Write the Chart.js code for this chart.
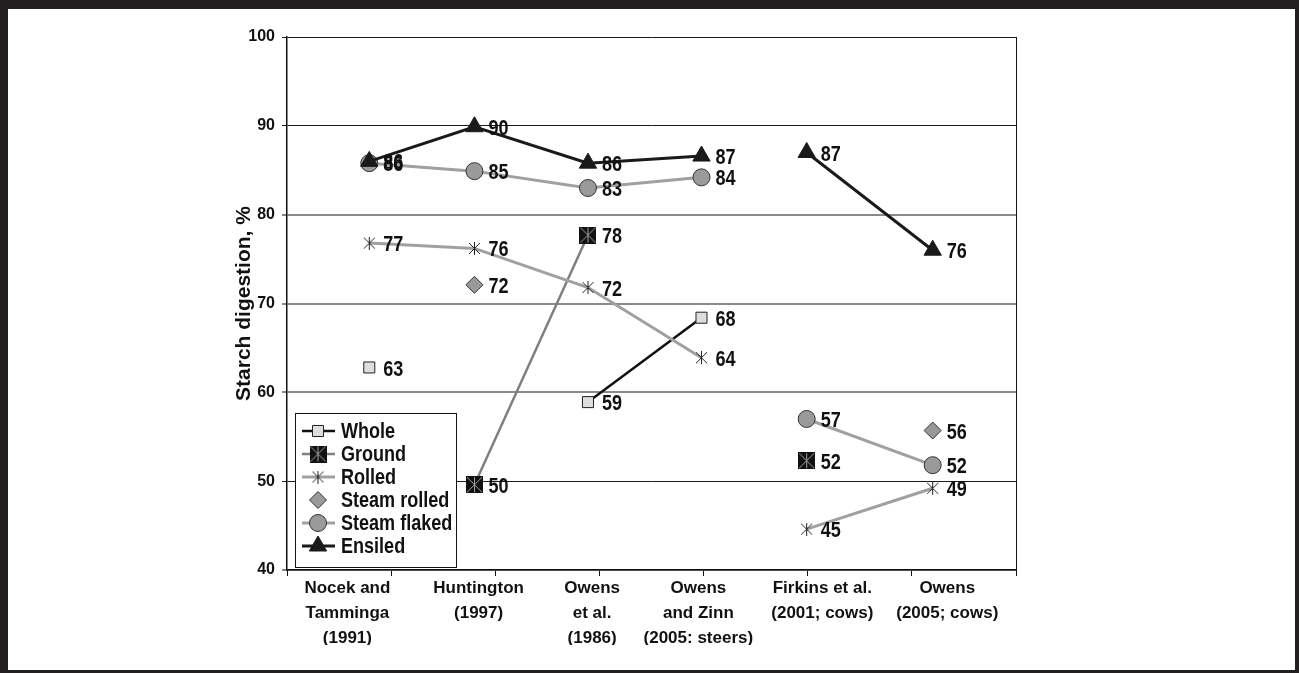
<!DOCTYPE html>
<html>
<head>
<meta charset="utf-8">
<title>Starch digestion</title>
<script src="https://cdn.jsdelivr.net/npm/chart.js@4/dist/chart.umd.min.js"></script>
<style>
  html, body { margin: 0; padding: 0; background: #fff; }
  #frame {
    position: absolute; left: 0; top: 0;
    width: 1299px; height: 673px; box-sizing: border-box;
    border-style: solid; border-color: #231f20;
    border-width: 9px 4px 3px 8px;
    background: #fff;
  }
  #wrap { position: relative; width: 1287px; height: 661px; }
</style>
</head>
<body>
<div id="frame"><div id="wrap"><canvas id="chart"></canvas></div></div>
<script>
// studies (x axis)
const studies = [
  ["Nocek and", "Tamminga", "(1991)"],
  ["Huntington", "(1997)"],
  ["Owens", "et al.", "(1986)"],
  ["Owens", "and Zinn", "(2005: steers)"],
  ["Firkins et al.", "(2001; cows)"],
  ["Owens", "(2005; cows)"]
];
// x value of each study, and of the centre of its label, in axis units
const studyX = [0.79, 1.8, 2.89, 3.98, 4.99, 6.2];
const labelX = [0.58, 1.84, 2.93, 3.95, 5.14, 6.34];
// lines are not joined between steer and cow studies
const cowStudy = [false, false, false, false, true, true];

// starch digestion, %
const whole       = [62.8, null, 58.9, 68.4, null, null];
const ground      = [null, 49.6, 77.7, null, 52.3, null];
const rolled      = [76.8, 76.2, 71.8, 63.9, 44.6, 49.2];
const steamRolled = [null, 72.1, null, null, null, 55.7];
const steamFlaked = [85.8, 84.9, 83.0, 84.2, 57.0, 51.8];
const ensiled     = [86.0, 89.9, 85.8, 86.6, 87.0, 76.0];

const yTicks = [40, 50, 60, 70, 80, 90, 100];

// is the narrow font there? otherwise squeeze the regular one
function hasFont(name) {
  const g = document.createElement('canvas').getContext('2d');
  g.font = 'bold 40px monospace';
  const a = g.measureText('Steam flaked 0123').width;
  g.font = 'bold 40px "' + name + '", monospace';
  return g.measureText('Steam flaked 0123').width !== a;
}
const NARROW = hasFont('Liberation Sans Narrow');
const narrowFont = size => 'bold ' + size + 'px ' + (NARROW ? '"Liberation Sans Narrow"' : '"Liberation Sans"');

function narrowText(ctx, text, x, y) {
  if (NARROW) { ctx.fillText(text, x, y); return; }
  ctx.save();
  ctx.translate(x, y);
  ctx.scale(0.82, 1);
  ctx.fillText(text, 0, 0);
  ctx.restore();
}

// markers Chart.js has no style for
function groundMarker() {
  const c = document.createElement('canvas');
  c.width = 17; c.height = 17;
  const g = c.getContext('2d');
  g.fillStyle = '#111';
  g.fillRect(0, 0, 17, 17);
  g.strokeStyle = '#a0a0a0';
  g.lineWidth = 1;
  g.beginPath();
  g.moveTo(1, 1); g.lineTo(16, 16);
  g.moveTo(16, 1); g.lineTo(1, 16);
  g.moveTo(8.5, 1); g.lineTo(8.5, 16);
  g.stroke();
  return c;
}
function rolledMarker() {
  const c = document.createElement('canvas');
  c.width = 13; c.height = 13;
  const g = c.getContext('2d');
  g.strokeStyle = '#222';
  g.lineWidth = 1;
  g.beginPath();
  g.moveTo(1, 1); g.lineTo(12, 12);
  g.moveTo(12, 1); g.lineTo(1, 12);
  g.moveTo(6.5, 0); g.lineTo(6.5, 13);
  g.stroke();
  return c;
}

const points = values => values.map((v, i) => ({ x: studyX[i], y: v }));

function makeSet(label, values, o) {
  return {
    label,
    data: points(values),
    borderColor: o.line,
    borderWidth: o.width,
    showLine: o.showLine !== false,
    pointStyle: o.style,
    pointRadius: o.radius,
    pointBackgroundColor: o.fill,
    pointBorderColor: o.border,
    pointBorderWidth: 1,
    order: o.order,
    segment: {
      borderColor: ctx => cowStudy[ctx.p0DataIndex] !== cowStudy[ctx.p1DataIndex] ? 'rgba(0,0,0,0)' : undefined
    }
  };
}

const datasets = [
  makeSet('Whole', whole, { line: '#111', width: 2.5, style: 'rect', radius: 7.8, fill: '#dedede', border: '#222', order: 5 }),
  makeSet('Ground', ground, { line: '#808080', width: 2.5, style: groundMarker(), radius: 8, fill: '#111', border: '#111', order: 4 }),
  makeSet('Rolled', rolled, { line: '#a0a0a0', width: 3, style: rolledMarker(), radius: 6, fill: '#222', border: '#222', order: 3 }),
  makeSet('Steam rolled', steamRolled, { line: '#999', width: 0, showLine: false, style: 'rectRot', radius: 8.5, fill: '#999', border: '#333', order: 2 }),
  makeSet('Steam flaked', steamFlaked, { line: '#a0a0a0', width: 3, style: 'circle', radius: 8.5, fill: '#9a9a9a', border: '#333', order: 1 }),
  makeSet('Ensiled', ensiled, { line: '#1a1a1a', width: 3, style: 'triangle', radius: 10, fill: '#1a1a1a', border: '#1a1a1a', order: 0 })
];

// value next to each marker
const valueLabels = {
  id: 'valueLabels',
  afterDatasetsDraw(chart) {
    const ctx = chart.ctx;
    ctx.save();
    ctx.fillStyle = '#111';
    ctx.textAlign = 'left';
    ctx.textBaseline = 'middle';
    ctx.font = narrowFont(22);
    chart.data.datasets.forEach((ds, i) => {
      chart.getDatasetMeta(i).data.forEach((pt, j) => {
        const v = ds.data[j].y;
        if (v === null) return;
        narrowText(ctx, String(Math.round(v)), pt.x + 14, pt.y + 2);
      });
    });
    ctx.restore();
  }
};

// boxed legend in the lower left of the plot; labels below the clip line are cut like the original
const boxLegend = {
  id: 'boxLegend',
  beforeDraw(chart) {
    const ctx = chart.ctx;
    ctx.save();
    ctx.beginPath();
    ctx.rect(0, 0, chart.width, 636);
    ctx.clip();
  },
  afterDraw(chart) {
    const ctx = chart.ctx;
    ctx.restore();
    const area = chart.chartArea;
    const left = area.left + 8, top = area.bottom - 157, w = 161, h = 154;
    ctx.save();
    ctx.fillStyle = '#fff';
    ctx.fillRect(left, top, w, h);
    ctx.strokeStyle = '#111';
    ctx.lineWidth = 1;
    ctx.strokeRect(left + 0.5, top + 0.5, w, h);
    chart.data.datasets.forEach((ds, i) => {
      const y = top + 18 + i * 23;
      if (ds.showLine) {
        ctx.strokeStyle = ds.borderColor;
        ctx.lineWidth = ds.borderWidth;
        ctx.beginPath();
        ctx.moveTo(left + 7, y);
        ctx.lineTo(left + 40, y);
        ctx.stroke();
      }
      ctx.fillStyle = ds.pointBackgroundColor;
      ctx.strokeStyle = ds.pointBorderColor;
      ctx.lineWidth = 1;
      Chart.helpers.drawPoint(ctx, { pointStyle: ds.pointStyle, radius: ds.pointRadius, rotation: 0, borderWidth: 1 }, left + 23, y);
      ctx.fillStyle = '#111';
      ctx.textAlign = 'left';
      ctx.textBaseline = 'middle';
      ctx.font = narrowFont(22);
      narrowText(ctx, ds.label, left + 46, y + 1);
    });
    ctx.restore();
  }
};

Chart.defaults.font.family = '"Liberation Sans", Arial, sans-serif';
Chart.defaults.font.weight = 'bold';
Chart.defaults.color = '#111';

const darkLines = [50, 90, 100];

new Chart(document.getElementById('chart'), {
  type: 'line',
  data: { datasets },
  options: {
    responsive: true,
    maintainAspectRatio: false,
    animation: false,
    events: [],
    layout: { padding: { left: 0, right: 279, top: 28, bottom: 0 } },
    plugins: {
      legend: { display: false },
      tooltip: { enabled: false }
    },
    scales: {
      x: {
        type: 'linear',
        position: 'bottom',
        min: 0,
        max: studies.length + 1,
        weight: 0,
        ticks: { stepSize: 1, display: false },
        grid: { drawOnChartArea: false, tickLength: 6, color: '#111', lineWidth: 1 },
        border: { color: '#111', width: 1.5 },
        afterFit(s) { s.height = 6; }
      },
      xl: {
        type: 'linear',
        position: 'bottom',
        min: 0,
        max: studies.length + 1,
        weight: 1,
        grid: { display: false },
        border: { display: false },
        afterBuildTicks(s) { s.ticks = labelX.map(v => ({ value: v })); },
        ticks: {
          autoSkip: false,
          maxRotation: 0,
          minRotation: 0,
          padding: -8,
          color: '#111',
          font: { size: 17, weight: 'bold', lineHeight: '25px' },
          callback: (v, i) => studies[i]
        },
        afterFit(s) { s.height = 94; }
      },
      y: {
        min: yTicks[0],
        max: yTicks[yTicks.length - 1],
        ticks: { stepSize: yTicks[1] - yTicks[0], padding: 7, color: '#111', font: { size: 16, weight: 'bold' } },
        grid: {
          tickLength: 5,
          color: c => darkLines.includes(c.tick.value) ? '#1a1a1a' : '#8a8a8a',
          lineWidth: c => darkLines.includes(c.tick.value) ? 1 : 2
        },
        border: { color: '#111', width: 1.5 },
        title: {
          display: true,
          text: 'Starch digestion, %',
          color: '#111',
          font: { size: 21, weight: 'bold' },
          padding: { top: 224, bottom: 0 }
        },
        afterFit(s) { s.width = 279; }
      },
      y2: {
        position: 'right',
        min: yTicks[0],
        max: yTicks[yTicks.length - 1],
        ticks: { display: false },
        grid: { drawOnChartArea: false, drawTicks: false },
        border: { color: '#111', width: 1 },
        afterFit(s) { s.width = 0; }
      }
    }
  },
  plugins: [valueLabels, boxLegend]
});
</script>
</body>
</html>
